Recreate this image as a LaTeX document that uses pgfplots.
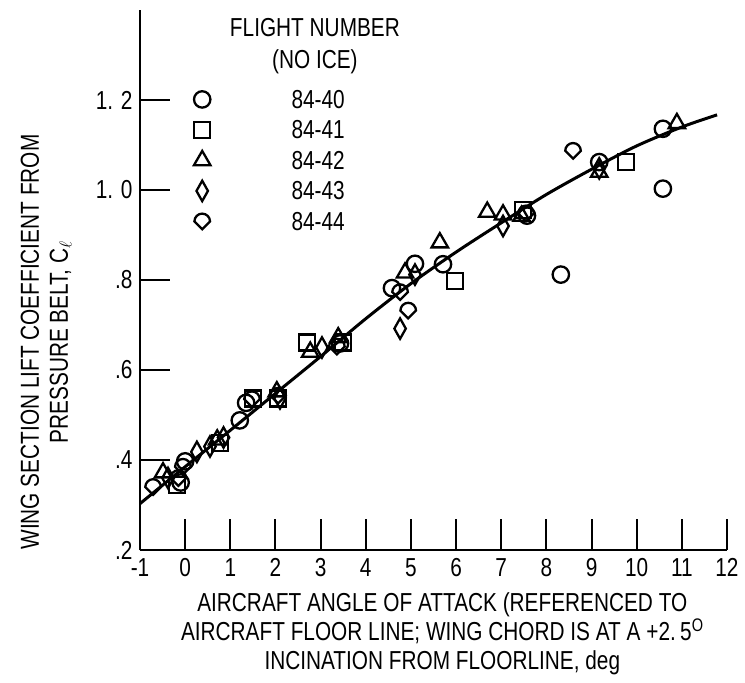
\documentclass[border=0pt]{standalone}
\usepackage{fontspec}
\setmainfont{Liberation Sans}[FakeStretch=0.8]
\usepackage{pgfplots}
\pgfplotsset{compat=1.18}
\pgfdeclareplotmark{drop}{%
  \pgfpathmoveto{\pgfqpoint{-\pgfplotmarksize}{0pt}}%
  \pgfpatharc{180}{0}{\pgfplotmarksize}%
  \pgfpathlineto{\pgfqpoint{0pt}{-\pgfplotmarksize}}%
  \pgfpathclose
  \pgfusepathqstroke
}
\pgfplotsset{
  leg/.style={legend image code/.code={%
    \path[draw=none,fill=none] (-12pt,-12pt) rectangle (86pt,12pt);
    \draw[##1] plot coordinates {(0pt,0pt)};}},
  tk/.style={line width=2pt, black, forget plot},
}
\begin{document}
\begin{tikzpicture}[font=\fontsize{26}{29}\selectfont]
\path (-140pt,-133pt) rectangle (605pt,550pt);
\begin{axis}[
  at={(0,0)}, anchor=south west,
  scale only axis, width=587pt, height=540pt,
  xmin=-1, xmax=12, ymin=0.2, ymax=1.4,
  axis x line=bottom, axis y line=left,
  axis line style={-, line width=2.5pt},
  axis on top,
  xtick={-1,0,1,2,3,4,5,6,7,8,9,10,11,12},
  xticklabels={-1,0,1,2,3,4,5,6,7,8,9,10,11,12},
  ytick={0.2,0.4,0.6,0.8,1.0,1.2},
  yticklabels={.2,.4,.6,.8,{1. 0},{1. 2}},
  tick align=inside,
  tickwidth=30pt,
  xtick style={line width=2pt, black},
  ytick style={line width=2pt, black},
  xticklabel shift=5pt,
  yticklabel shift=4pt,
  xlabel={AIRCRAFT ANGLE OF ATTACK (REFERENCED TO\\AIRCRAFT FLOOR LINE; WING CHORD IS AT A +2.\,5\textsuperscript{O}\\INCINATION FROM FLOORLINE, deg},
  xlabel style={at={(axis description cs:0.515,-0.156)}, anchor=center, align=center},
  ylabel={WING SECTION LIFT COEFFICIENT FROM\\PRESSURE BELT, C$_\ell$},
  ylabel style={at={(axis description cs:-0.160,0.385)}, anchor=center, align=center},
  legend style={at={(rel axis cs:0.0852,0.857)}, anchor=north west, draw=none, fill=none,
    inner sep=0pt, row sep=6.5pt,
    nodes={inner sep=0pt, text height=18pt, text depth=0pt, text width=60pt, align=center, anchor=west}},
  clip=false,
]
\addplot[smooth, line width=3pt, black, forget plot] coordinates {
(-1,0.303) (0,0.385) (1,0.466) (2,0.548) (3,0.630) (4,0.714) (5,0.792)
(6,0.862) (7,0.927) (8,0.990) (9,1.046) (10,1.098) (11,1.140) (11.78,1.167)};
\addplot[only marks, mark=o, mark size=8.2pt, line width=2.3pt, black, leg] coordinates {
(-0.1,0.35) (0.0,0.397) (1.21,0.488) (1.35,0.527) (3.43,0.659) (4.58,0.782)
(5.09,0.836) (5.71,0.835) (7.57,0.943) (8.32,0.812) (9.17,1.062) (10.58,1.003) (10.58,1.136)};
\addlegendentry{84-40}
\addplot[only marks, mark=square, mark size=8pt, line width=2.3pt, black, leg] coordinates {
(-0.18,0.345) (0.77,0.438) (1.5,0.537) (2.06,0.537) (2.70,0.661) (3.50,0.661)
(5.98,0.798) (7.48,0.955) (9.76,1.062)};
\addlegendentry{84-41}
\addplot[only marks, mark=triangle, mark size=9.5pt, line width=2.3pt, black, leg] coordinates {
(-0.49,0.372) (0.71,0.445) (2.03,0.552) (2.77,0.64) (3.39,0.672) (4.87,0.816)
(5.64,0.883) (6.69,0.951) (7.04,0.945) (7.45,0.942) (9.17,1.04) (10.89,1.148)};
\addlegendentry{84-42}
\addplot[only marks, mark=diamond, mark size=10.2pt, mark options={xscale=0.75}, line width=2.3pt, black, leg] coordinates {
(-0.38,0.36) (0.26,0.418) (0.55,0.43) (0.85,0.45) (2.1,0.537) (3.03,0.65)
(4.76,0.692) (5.09,0.812) (7.04,0.92) (9.17,1.048)};
\addlegendentry{84-43}
\addplot[only marks, mark=drop, mark size=7.8pt, line width=2.3pt, black, leg] coordinates {
(-0.71,0.34) (-0.15,0.36) (-0.05,0.385) (1.48,0.535) (2.06,0.543) (3.36,0.652)
(4.76,0.773) (4.94,0.732) (7.55,0.948) (8.59,1.087)};
\addlegendentry{84-44}
% x tick marks (upward, inside), drawn as short data segments
\addplot[tk] coordinates {(0,0.2) (0,0.268)};
\addplot[tk] coordinates {(1,0.2) (1,0.268)};
\addplot[tk] coordinates {(2,0.2) (2,0.268)};
\addplot[tk] coordinates {(3,0.2) (3,0.268)};
\addplot[tk] coordinates {(4,0.2) (4,0.268)};
\addplot[tk] coordinates {(5,0.2) (5,0.268)};
\addplot[tk] coordinates {(6,0.2) (6,0.268)};
\addplot[tk] coordinates {(7,0.2) (7,0.268)};
\addplot[tk] coordinates {(8,0.2) (8,0.268)};
\addplot[tk] coordinates {(9,0.2) (9,0.268)};
\addplot[tk] coordinates {(10,0.2) (10,0.268)};
\addplot[tk] coordinates {(11,0.2) (11,0.268)};
\addplot[tk] coordinates {(12,0.2) (12,0.268)};
\node[align=center, font=\fontsize{26}{32}\selectfont] at (rel axis cs:0.298,0.933) {FLIGHT NUMBER\\(NO ICE)};
\end{axis}
\end{tikzpicture}
\end{document}
